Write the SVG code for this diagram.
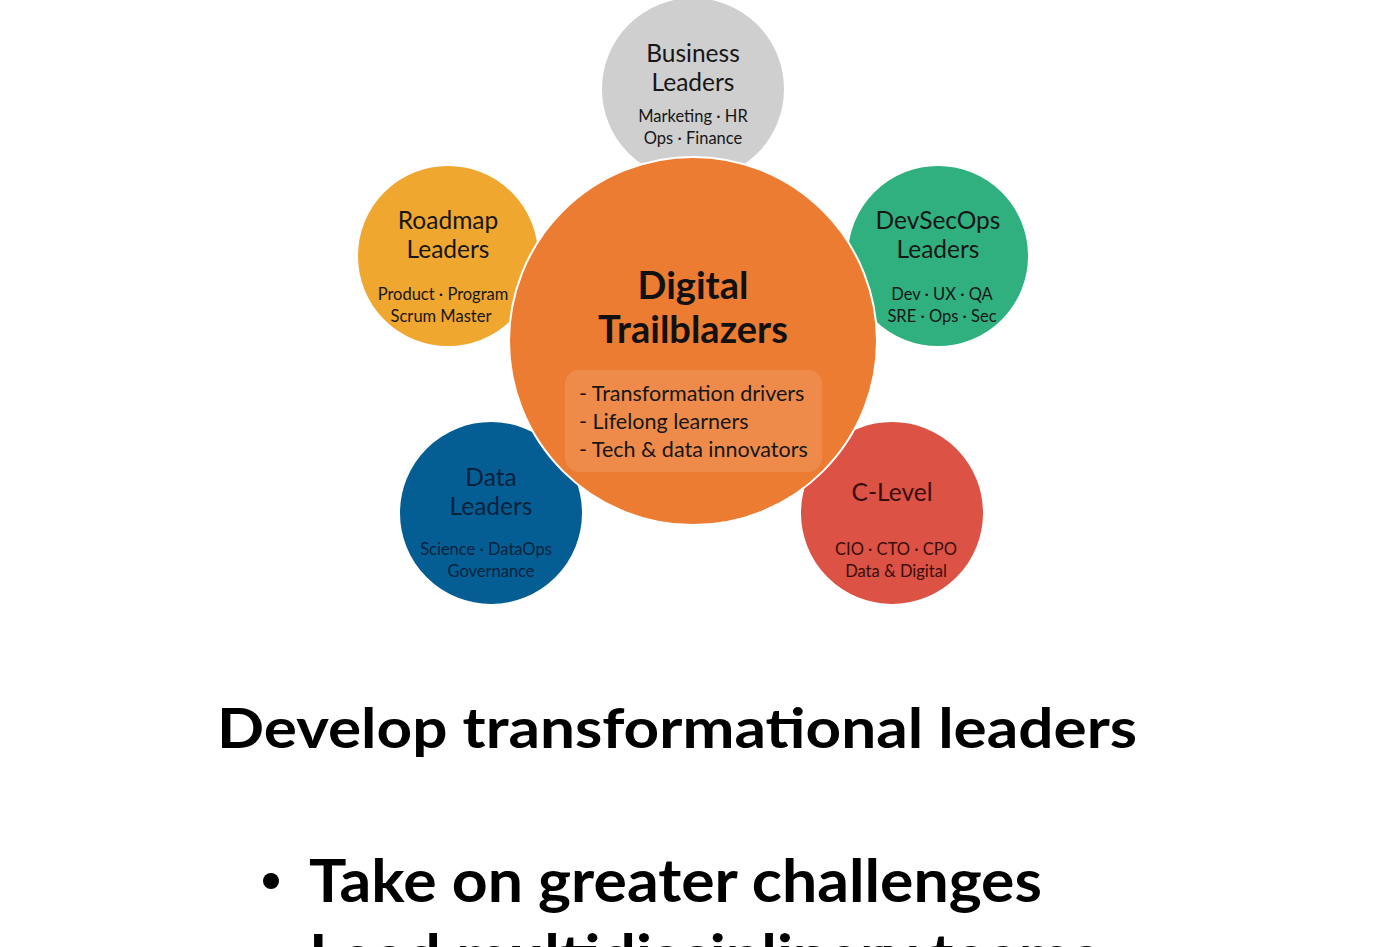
<svg xmlns="http://www.w3.org/2000/svg" width="1386" height="947" viewBox="0 0 1386 947">
<style>
  text { font-family: Lato, "Open Sans", "Liberation Sans", sans-serif; text-anchor: middle; }
  .circ { stroke: #ffffff; stroke-width: 2; }
  .t { font-size: 24.5px; fill: #161616; }
  .s { font-size: 16.5px; fill: #161616; }
  .blue { fill: #0a223c; }
  .red { fill: #380d0b; }
  .hero { font-size: 38px; font-weight: bold; fill: #111111; }
  .li { font-size: 21.5px; fill: #161616; text-anchor: start; }
  .h1 { font-size: 56px; font-weight: bold; fill: #000000; }
  .b { font-size: 60px; font-weight: bold; fill: #000000; text-anchor: start; }
</style>
<rect width="1386" height="947" fill="#ffffff"/>
<g id="connectors"></g>
<g id="business">
  <circle class="circ" cx="693" cy="89" r="92" fill="#cfcfcf"/>
  <text class="t" x="693" y="62">Business</text>
  <text class="t" x="693" y="91">Leaders</text>
  <text class="s" x="693" y="122">Marketing · HR</text>
  <text class="s" x="693" y="144">Ops · Finance</text>
</g>
<g id="roadmap">
  <circle class="circ" cx="448" cy="256" r="91" fill="#efa72f"/>
  <text class="t" x="448" y="229">Roadmap</text>
  <text class="t" x="448" y="258">Leaders</text>
  <text class="s" x="443" y="300">Product · Program</text>
  <text class="s" x="441" y="322">Scrum Master</text>
</g>
<g id="devsecops">
  <circle class="circ" cx="938" cy="256" r="91" fill="#2fb07e"/>
  <text class="t" x="938" y="229">DevSecOps</text>
  <text class="t" x="938" y="258">Leaders</text>
  <text class="s" x="942" y="300">Dev · UX · QA</text>
  <text class="s" x="942" y="322">SRE · Ops · Sec</text>
</g>
<g id="data">
  <circle class="circ" cx="491" cy="513" r="92" fill="#045e94"/>
  <text class="t blue" x="491" y="486">Data</text>
  <text class="t blue" x="491" y="515">Leaders</text>
  <text class="s blue" x="486" y="555">Science · DataOps</text>
  <text class="s blue" x="491" y="577">Governance</text>
</g>
<g id="clevel">
  <circle class="circ" cx="892" cy="513" r="92" fill="#dc5244"/>
  <text class="t red" x="892" y="501">C-Level</text>
  <text class="s red" x="896" y="555">CIO · CTO · CPO</text>
  <text class="s red" x="896" y="577">Data &amp; Digital</text>
</g>
<g id="center">
  <circle class="circ" cx="693" cy="341" r="184" fill="#ec7c31"/>
  <text class="hero" x="693" y="299">Digital</text>
  <text class="hero" x="693" y="343">Trailblazers</text>
  <rect x="565" y="370" width="257" height="102" rx="14" fill="#ffffff" fill-opacity="0.12"/>
  <text class="li" x="579" y="401">- Transformation drivers</text>
  <text class="li" x="579" y="429">- Lifelong learners</text>
  <text class="li" x="579" y="457">- Tech &amp; data innovators</text>
</g>
<g id="headline">
  <text class="h1" x="677" y="748" textLength="920" lengthAdjust="spacingAndGlyphs">Develop transformational leaders</text>
</g>
<g id="bullets">
  <circle cx="271" cy="881" r="8" fill="#000000"/>
  <text class="b" x="309" y="902" textLength="733" lengthAdjust="spacingAndGlyphs">Take on greater challenges</text>
  <circle cx="271" cy="957" r="8" fill="#000000"/>
  <text class="b" x="309" y="977" textLength="790" lengthAdjust="spacingAndGlyphs">Lead multidisciplinary teams</text>
</g>
</svg>
